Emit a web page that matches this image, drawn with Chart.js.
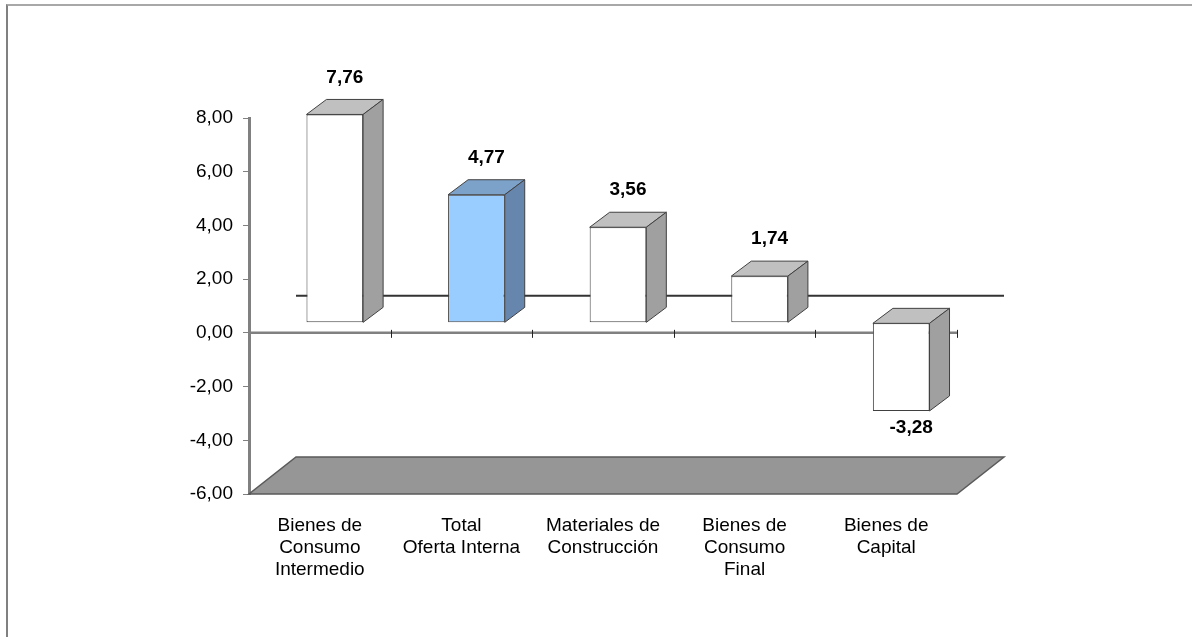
<!DOCTYPE html>
<html>
<head>
<meta charset="utf-8">
<script src="https://cdn.jsdelivr.net/npm/chart.js@4/dist/chart.umd.min.js"></script>
<style>
  html, body { margin: 0; padding: 0; background: #fff; }
  #wrap { position: relative; width: 1192px; height: 637px; }
  #frame { position: absolute; left: 6px; top: 4px; right: 0; bottom: 0;
           border-top: 2px solid #a8a8a8; border-left: 2px solid #808080; }
  canvas { position: absolute; left: 0; top: 0; }
</style>
</head>
<body>
<div id="wrap">
  <div id="frame"></div>
  <canvas id="chart" width="1192" height="637"></canvas>
</div>
<script>
// data
const categories = [
  ['Bienes de', 'Consumo', 'Intermedio'],
  ['Total', 'Oferta Interna'],
  ['Materiales de', 'Construcción'],
  ['Bienes de', 'Consumo', 'Final'],
  ['Bienes de', 'Capital']
]
const values = [7.76, 4.77, 3.56, 1.74, -3.28]
const yMin = -6
const yMax = 8
const yStep = 2

// look
const highlightIndex = 1
const front = { plain: '#ffffff', hi: '#99ccff' }
const topFace = { plain: '#c0c0c0', hi: '#7da2ca' }
const sideFace = { plain: '#a0a0a0', hi: '#6786ad' }
const edge = '#404040'
const barShift = { dx: 15, dy: -10 }
const barDepth = { dx: 20, dy: -15 }
const floorDepth = { dx: 47, dy: -37 }
const fontFamily = '"Liberation Sans", Arial, sans-serif'

const fmt = v => v.toFixed(2).replace('.', ',')

Chart.defaults.font.family = fontFamily
Chart.defaults.font.size = 19
Chart.defaults.color = '#000'

function poly(ctx, pts, fill, stroke, lw) {
  ctx.beginPath()
  ctx.moveTo(pts[0][0], pts[0][1])
  for (let i = 1; i < pts.length; i++) ctx.lineTo(pts[i][0], pts[i][1])
  ctx.closePath()
  if (fill) { ctx.fillStyle = fill; ctx.fill() }
  if (stroke) { ctx.strokeStyle = stroke; ctx.lineWidth = lw || 1; ctx.stroke() }
}

const threeD = {
  id: 'threeD',
  beforeDatasetsDraw(chart) {
    const { ctx, chartArea: a, scales: { y } } = chart
    const L = a.left, R = a.right, B = y.getPixelForValue(yMin)
    const z = y.getPixelForValue(0)
    ctx.save()
    // floor
    poly(ctx, [[L, B], [R, B], [R + floorDepth.dx, B + floorDepth.dy], [L + floorDepth.dx, B + floorDepth.dy]],
      '#969696', '#5a5a5a', 1.5)
    // zero line on the back wall
    ctx.beginPath()
    ctx.moveTo(L + floorDepth.dx, z + floorDepth.dy)
    ctx.lineTo(R + floorDepth.dx, z + floorDepth.dy)
    ctx.strokeStyle = '#333'
    ctx.lineWidth = 2
    ctx.stroke()
    // front zero line with category ticks
    ctx.beginPath()
    ctx.moveTo(L, z)
    ctx.lineTo(R, z)
    ctx.strokeStyle = '#808080'
    ctx.lineWidth = 2.5
    ctx.stroke()
    const cw = (R - L) / categories.length
    ctx.beginPath()
    for (let i = 1; i <= categories.length; i++) {
      const x = Math.round(L + i * cw) + 0.5
      ctx.moveTo(x, z - 3)
      ctx.lineTo(x, z + 5)
    }
    ctx.strokeStyle = '#222'
    ctx.lineWidth = 1
    ctx.stroke()
    ctx.restore()
    ctx.save()
    ctx.translate(barShift.dx, barShift.dy)
  },
  afterDatasetsDraw(chart) {
    const { ctx } = chart
    ctx.restore()
    const meta = chart.getDatasetMeta(0)
    ctx.save()
    meta.data.forEach((bar, i) => {
      const p = bar.getProps(['x', 'y', 'base', 'width'], true)
      const x0 = p.x - p.width / 2 + barShift.dx
      const x1 = p.x + p.width / 2 + barShift.dx
      const top = Math.min(p.y, p.base) + barShift.dy
      const bot = Math.max(p.y, p.base) + barShift.dy
      const hi = i === highlightIndex
      const dx = barDepth.dx, dy = barDepth.dy
      poly(ctx, [[x0, top], [x1, top], [x1 + dx, top + dy], [x0 + dx, top + dy]],
        hi ? topFace.hi : topFace.plain, edge, 1)
      poly(ctx, [[x1, top], [x1 + dx, top + dy], [x1 + dx, bot + dy], [x1, bot]],
        hi ? sideFace.hi : sideFace.plain, edge, 1)
      // value label
      const v = values[i]
      ctx.font = 'bold 19px ' + fontFamily
      ctx.fillStyle = '#000'
      ctx.textAlign = 'center'
      ctx.textBaseline = 'middle'
      const lx = (x0 + x1) / 2 + 10
      const ly = v >= 0 ? top + dy - 22 : bot + 17
      ctx.fillText(fmt(v), lx, ly)
    })
    ctx.restore()
  }
}

new Chart(document.getElementById('chart'), {
  type: 'bar',
  data: {
    labels: categories,
    datasets: [{
      data: values,
      backgroundColor: values.map((v, i) => i === highlightIndex ? front.hi : front.plain),
      borderColor: edge,
      borderWidth: 1,
      borderSkipped: false,
      barPercentage: 0.4,
      categoryPercentage: 1
    }]
  },
  options: {
    responsive: false,
    animation: false,
    devicePixelRatio: 1,
    layout: { padding: { left: 0, right: 235, top: 118, bottom: 0 } },
    plugins: { legend: { display: false }, tooltip: { enabled: false } },
    scales: {
      y: {
        min: yMin,
        max: yMax,
        afterFit: s => { s.width = 249 },
        ticks: { stepSize: yStep, padding: 10, callback: v => fmt(v) },
        grid: { drawOnChartArea: false, tickLength: 6, color: '#808080' },
        border: { color: '#808080', width: 3 }
      },
      x: {
        afterFit: s => { s.height = 143 },
        grid: { display: false, drawTicks: false },
        border: { display: false },
        ticks: { padding: 21, maxRotation: 0, autoSkip: false, font: { size: 19, lineHeight: 1.16 } }
      }
    }
  },
  plugins: [threeD]
})
</script>
</body>
</html>
